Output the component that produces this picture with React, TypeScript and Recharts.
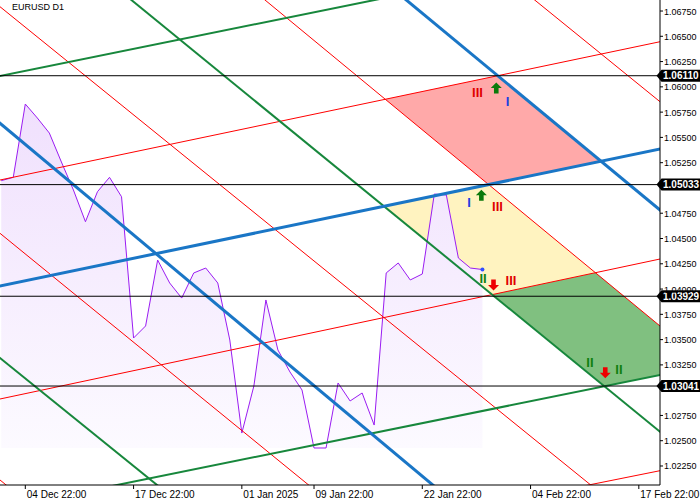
import React from 'react';
import { ComposedChart, Line, Area, XAxis, YAxis, ReferenceLine, ReferenceDot } from 'recharts';

// ---- domain (bar index / price) ----
const X_MIN = -2.103;
const X_MAX = 52.76;
const Y_MIN = 1.02062;
const Y_MAX = 1.06859;

// ---- price series (line chart, one value per bar) ----
const barIndex = [-2, -1, 0, 1, 2, 3, 4, 5, 6, 7, 8, 9, 10, 11, 12, 13, 14, 15, 16, 17, 18, 19, 20, 21, 22, 23, 24, 25, 26, 27, 28, 29, 30, 31, 32, 33, 34, 35, 36, 37, 38];
const closePrices = [
  1.05072, 1.05105, 1.0583, 1.05692, 1.05543, 1.05257, 1.0498, 1.04666, 1.04963, 1.05105,
  1.04913, 1.03516, 1.03635, 1.04287, 1.0406, 1.03911, 1.04159, 1.04208, 1.0406, 1.03496,
  1.02576, 1.03041, 1.03892, 1.03397, 1.0318, 1.03002, 1.02428, 1.02428, 1.03071, 1.02893,
  1.02972, 1.02655, 1.04159, 1.04258, 1.0409, 1.04149, 1.0494, 1.0493, 1.04307, 1.04208, 1.04193,
];

// ---- axis ticks (1.05000 and 1.03000 are hidden under the level tags) ----
const xTickValues = [0, 9, 18, 24, 33, 42, 51];
const xTickLabels = ['04 Dec 22:00', '17 Dec 22:00', '01 Jan 2025', '09 Jan 22:00', '22 Jan 22:00', '04 Feb 22:00', '17 Feb 22:00'];
const yTickValues = [
  1.0225, 1.025, 1.0275, 1.0325, 1.035, 1.0375, 1.04, 1.0425, 1.045, 1.0475,
  1.0525, 1.055, 1.0575, 1.06, 1.0625, 1.065, 1.0675,
];

// ---- horizontal levels ----
const levels = [1.0611, 1.05033, 1.03929, 1.03041];

// ---- trend lines (two points each, bar index / price) ----
const trendLines = [
  { name: 'rdA', kind: 'red', x1: -2.103, p1: 1.067925, x2: 46.9, p2: 1.02072 },
  { name: 'rdB', kind: 'red', x1: 19.925, p1: 1.06859, x2: 52.76, p2: 1.036346 },
  { name: 'rdC', kind: 'red', x1: 42.344, p1: 1.06859, x2: 52.76, p2: 1.05853 },
  { name: 'rdD', kind: 'red', x1: -2.103, p1: 1.045514, x2: 23.45, p2: 1.02072 },
  { name: 'rdE', kind: 'red', x1: -2.103, p1: 1.021115, x2: -1.103, p2: 1.020145 },
  { name: 'ruA', kind: 'red', x1: -2.103, p1: 1.050786, x2: 52.76, p2: 1.064464 },
  { name: 'ruB', kind: 'red', x1: -2.103, p1: 1.029126, x2: 52.76, p2: 1.042972 },
  { name: 'ruC', kind: 'red', x1: 47.249, p1: 1.02072, x2: 52.76, p2: 1.022035 },
  { name: 'gdA', kind: 'green', x1: 8.82, p1: 1.06859, x2: 52.76, p2: 1.025892 },
  { name: 'gdB', kind: 'green', x1: -2.103, p1: 1.033181, x2: 10.848, p2: 1.02072 },
  { name: 'guA', kind: 'green', x1: -2.103, p1: 1.061071, x2: 29.044, p2: 1.06859 },
  { name: 'guB', kind: 'green', x1: 8.038, p1: 1.02072, x2: 52.76, p2: 1.0315 },
  { name: 'bdA', kind: 'blue', x1: 31.671, p1: 1.06859, x2: 52.76, p2: 1.047818 },
  { name: 'bdB', kind: 'blue', x1: -2.103, p1: 1.056393, x2: 33.774, p2: 1.02072 },
  { name: 'bu', kind: 'blue', x1: -2.103, p1: 1.040302, x2: 52.76, p2: 1.053852 },
];

// ---- filled zones bounded by two rising and two falling lines ----
const zones = [
  { fill: '#ffa9a9', upper: 'ruA', lower: 'bu', left: 'rdB', right: 'bdA' },
  { fill: '#fff3c0', upper: 'bu', lower: 'ruB', left: 'gdA', right: 'rdB' },
  { fill: '#80c080', upper: 'ruB', lower: 'guB', left: 'gdA', right: 'rdB' },
];

// ---- annotations ----
const marks = [
  { x: 37.59, p: 1.059489, type: 'text', text: 'III', color: '#e00000' },
  { x: 39.15, p: 1.059885, type: 'up' },
  { x: 40.08, p: 1.058599, type: 'text', text: 'I', color: '#2040e0' },
  { x: 36.88, p: 1.04861, type: 'text', text: 'I', color: '#2040e0' },
  { x: 37.91, p: 1.049272, type: 'up' },
  { x: 39.25, p: 1.048145, type: 'text', text: 'III', color: '#e00000' },
  { x: 38.05, p: 1.041093, type: 'text', text: 'II', color: '#108010' },
  { x: 38.92, p: 1.040401, type: 'down' },
  { x: 40.37, p: 1.040895, type: 'text', text: 'III', color: '#e00000' },
  { x: 46.94, p: 1.032785, type: 'text', text: 'II', color: '#108010' },
  { x: 48.21, p: 1.031717, type: 'down' },
  { x: 49.35, p: 1.032043, type: 'text', text: 'II', color: '#108010' },
];

const styles: Record<string, { stroke: string; width: number }> = {
  red: { stroke: '#ff0000', width: 1 },
  green: { stroke: '#17873c', width: 2 },
  blue: { stroke: '#1a76c6', width: 3 },
};

const FONT = "'Liberation Sans', Arial, sans-serif";

type TL = (typeof trendLines)[number];
const slope = (l: TL) => (l.p2 - l.p1) / (l.x2 - l.x1);
const valAt = (l: TL, x: number) => l.p1 + slope(l) * (x - l.x1);
const byName = (n: string) => trendLines.find((l) => l.name === n) as TL;
const cross = (a: TL, b: TL) => {
  const ca = valAt(a, 0);
  const cb = valAt(b, 0);
  return (cb - ca) / (slope(a) - slope(b));
};

const lineData = (l: TL) => [
  { x: X_MIN - 3, p: valAt(l, X_MIN - 3) },
  { x: X_MAX + 3, p: valAt(l, X_MAX + 3) },
];

const zoneData = (z: (typeof zones)[number]) => {
  const U1 = byName(z.upper);
  const U2 = byName(z.lower);
  const Dl = byName(z.left);
  const Dr = byName(z.right);
  const xs = [cross(Dl, U1), cross(Dl, U2), cross(Dr, U1), cross(Dr, U2)].sort((a, b) => a - b);
  return xs.map((x) => {
    let lo = Math.max(valAt(U2, x), valAt(Dl, x));
    let hi = Math.min(valAt(U1, x), valAt(Dr, x));
    if (lo > hi) {
      const m = (lo + hi) / 2;
      lo = m;
      hi = m;
    }
    return { x, r: [lo, hi] };
  });
};

const priceData = barIndex.map((x, i) => ({ x, p: closePrices[i] }));
const priceMin = Math.min(...closePrices);

const XTick = (props: any) => {
  const { x, y, payload } = props;
  const idx = xTickValues.indexOf(payload.value);
  return (
    <text x={x + 1.5} y={y + 7} fontSize={10} fontFamily={FONT} fill="#000" textAnchor="start">
      {xTickLabels[idx]}
    </text>
  );
};

const YTick = (props: any) => {
  const { x, y, payload } = props;
  return (
    <text x={x} y={y + 3.5} fontSize={9} fontFamily={FONT} fill="#000" textAnchor="start">
      {Number(payload.value).toFixed(5)}
    </text>
  );
};

const makeTag = (value: number) => (props: any) => {
  const vb = props.viewBox || {};
  const tx = (vb.x || 0) + (vb.width || 0);
  const ty = vb.y || 0;
  return (
    <g>
      <path
        d={`M${tx - 3.5},${ty} L${tx + 1.5},${ty - 6} L700,${ty - 6} L700,${ty + 6} L${tx + 1.5},${ty + 6} Z`}
        fill="#000"
      />
      <text x={tx + 3} y={ty + 3.6} fontSize={10} fontWeight="bold" fontFamily={FONT} fill="#fff">
        {value.toFixed(5)}
      </text>
    </g>
  );
};

const renderMark = (m: (typeof marks)[number]) => (props: any) => {
  const { cx, cy } = props;
  if (m.type === 'up') {
    return (
      <path
        d={`M${cx},${cy - 5.5} L${cx + 5.5},${cy} L${cx + 2.3},${cy} L${cx + 2.3},${cy + 5.5} L${cx - 2.3},${cy + 5.5} L${cx - 2.3},${cy} L${cx - 5.5},${cy} Z`}
        fill="#0b7a0b"
      />
    );
  }
  if (m.type === 'down') {
    return (
      <path
        d={`M${cx},${cy + 5.5} L${cx + 5.5},${cy} L${cx + 2.3},${cy} L${cx + 2.3},${cy - 5.5} L${cx - 2.3},${cy - 5.5} L${cx - 2.3},${cy} L${cx - 5.5},${cy} Z`}
        fill="#ee0000"
      />
    );
  }
  return (
    <text x={cx} y={cy + 4.6} fontSize={13} fontWeight="bold" fontFamily={FONT} fill={m.color} textAnchor="middle">
      {m.text}
    </text>
  );
};

const order = ['red', 'green', 'blue'];
const sortedLines = [...trendLines].sort((a, b) => order.indexOf(a.kind) - order.indexOf(b.kind));

export default function App() {
  return (
    <div style={{ position: 'absolute', left: 0, top: 0, width: 700, height: 500, background: '#fff' }}>
      <ComposedChart width={700} height={500} margin={{ top: 0, right: 0, bottom: 0, left: 0 }}>
        <defs>
          <linearGradient id="lav" x1="0" y1="0" x2="0" y2="1">
            <stop offset="0%" stopColor="#f0e0fd" />
            <stop offset="100%" stopColor="#fcfaff" />
          </linearGradient>
        </defs>
        <XAxis
          type="number"
          dataKey="x"
          domain={[X_MIN, X_MAX]}
          allowDataOverflow
          ticks={xTickValues}
          interval={0}
          tick={<XTick />}
          tickSize={4}
          tickMargin={2}
          tickLine={{ stroke: '#000' }}
          axisLine={{ stroke: '#000' }}
          height={15}
        />
        <YAxis
          type="number"
          orientation="right"
          domain={[Y_MIN, Y_MAX]}
          allowDataOverflow
          ticks={yTickValues}
          interval={0}
          tick={<YTick />}
          tickSize={3}
          tickMargin={1}
          tickLine={{ stroke: '#000' }}
          axisLine={{ stroke: '#000' }}
          width={40}
        />
        {zones.map((z, i) => (
          <Area
            key={'z' + i}
            data={zoneData(z)}
            dataKey="r"
            type="linear"
            stroke="none"
            fill={z.fill}
            fillOpacity={1}
            isAnimationActive={false}
            dot={false}
            activeDot={false}
          />
        ))}
        <Area
          data={priceData}
          dataKey="p"
          type="linear"
          baseValue={priceMin}
          stroke="none"
          fill="url(#lav)"
          fillOpacity={1}
          isAnimationActive={false}
          dot={false}
          activeDot={false}
        />
        <Line
          data={priceData}
          dataKey="p"
          type="linear"
          stroke="#9a1cf2"
          strokeWidth={1}
          dot={false}
          activeDot={false}
          isAnimationActive={false}
        />
        {sortedLines.map((l) => (
          <Line
            key={l.name}
            data={lineData(l)}
            dataKey="p"
            type="linear"
            stroke={styles[l.kind].stroke}
            strokeWidth={styles[l.kind].width}
            dot={false}
            activeDot={false}
            isAnimationActive={false}
          />
        ))}
        {levels.map((lv) => (
          <ReferenceLine key={'lv' + lv} y={lv} stroke="#000" strokeWidth={1} label={makeTag(lv)} />
        ))}
        <ReferenceDot
          x={barIndex[barIndex.length - 1]}
          y={closePrices[closePrices.length - 1]}
          r={2}
          fill="#3050ff"
          stroke="none"
        />
        {marks.map((m, i) => (
          <ReferenceDot key={'m' + i} x={m.x} y={m.p} r={0} ifOverflow="visible" shape={renderMark(m)} />
        ))}
      </ComposedChart>
      <div
        style={{
          position: 'absolute',
          left: 12,
          top: 3,
          fontSize: 9,
          lineHeight: '9px',
          fontFamily: FONT,
          color: '#000',
          whiteSpace: 'nowrap',
        }}
      >
        EURUSD D1
      </div>
    </div>
  );
}
